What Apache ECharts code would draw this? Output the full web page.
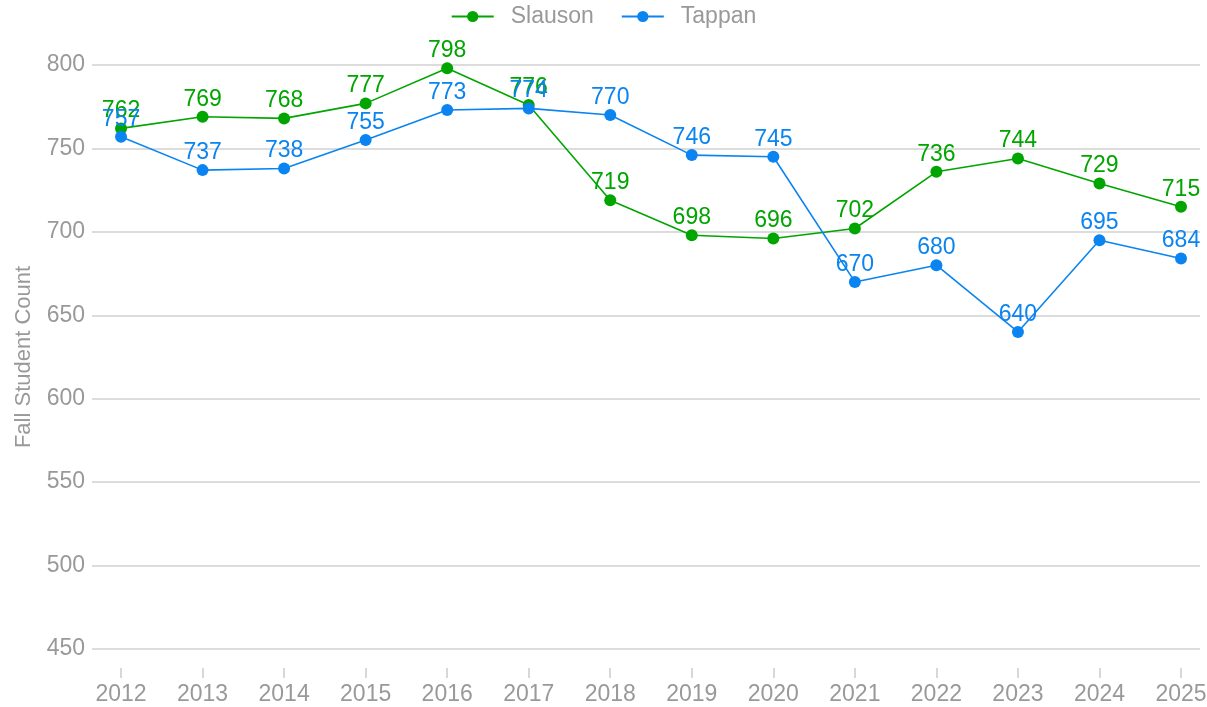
<!DOCTYPE html>
<html>
<head>
<meta charset="UTF-8">
<title>Fall Student Count</title>
<style>
  html, body { margin: 0; padding: 0; background: #fff; }
  #main { width: 1207px; height: 707px; }
</style>
</head>
<body>
<div id="main"></div>
<script src="https://cdn.jsdelivr.net/npm/echarts@6/dist/echarts.min.js"></script>
<script>
var years = [2012, 2013, 2014, 2015, 2016, 2017, 2018, 2019, 2020, 2021, 2022, 2023, 2024, 2025];
var slauson = [762, 769, 768, 777, 798, 776, 719, 698, 696, 702, 736, 744, 729, 715];
var tappan = [757, 737, 738, 755, 773, 774, 770, 746, 745, 670, 680, 640, 695, 684];
var yTicks = [450, 500, 550, 600, 650, 700, 750, 800];

var font = 'Liberation Sans, Helvetica, Arial, sans-serif';
var grey = '#999';

function pairs(vals) {
  return years.map(function (y, i) { return [y, vals[i]]; });
}

function line(name, color, vals) {
  return {
    name: name,
    type: 'line',
    data: pairs(vals),
    symbol: 'circle',
    symbolSize: 12,
    itemStyle: { color: color },
    lineStyle: { color: color, width: 1.6 },
    label: {
      show: true,
      position: 'top',
      distance: 0,
      color: color,
      fontSize: 23,
      fontFamily: font
    },
    labelLayout: { hideOverlap: false },
    animation: false
  };
}

var myChart = echarts.init(document.getElementById('main'));
myChart.setOption({
  backgroundColor: '#fff',
  textStyle: { fontFamily: font },
  legend: {
    top: 0,
    left: 'center',
    itemWidth: 42,
    itemHeight: 14,
    itemGap: 27,
    textStyle: { color: grey, fontSize: 23, fontFamily: font, padding: [0, 0, 0, 12] },
    data: ['Slauson', 'Tappan']
  },
  grid: { left: 92, right: 7, top: 65, bottom: 58, outerBoundsMode: 'none', containLabel: false },
  xAxis: {
    type: 'value',
    min: 2011.644,
    max: 2025.233,
    offset: 19,
    axisLine: { show: false },
    splitLine: { show: false },
    axisTick: { show: true, length: 10, customValues: years, lineStyle: { color: '#ccc', width: 1.5 } },
    axisLabel: {
      customValues: years,
      color: grey,
      fontSize: 23,
      margin: 15,
      fontFamily: font,
      formatter: function (v) { return String(Math.round(v)); }
    }
  },
  yAxis: {
    type: 'value',
    min: yTicks[0],
    max: yTicks[yTicks.length - 1],
    interval: 50,
    name: 'Fall Student Count',
    nameLocation: 'middle',
    nameGap: 57,
    nameTextStyle: { color: grey, fontSize: 22, fontFamily: font },
    axisLine: { show: false },
    axisTick: { show: false },
    axisLabel: { color: grey, fontSize: 23, margin: 7, fontFamily: font },
    splitLine: { lineStyle: { color: '#d0d0d0', width: 1.5 } }
  },
  series: [
    line('Slauson', '#00a500', slauson),
    line('Tappan', '#0a84f0', tappan)
  ]
});
</script>
</body>
</html>
